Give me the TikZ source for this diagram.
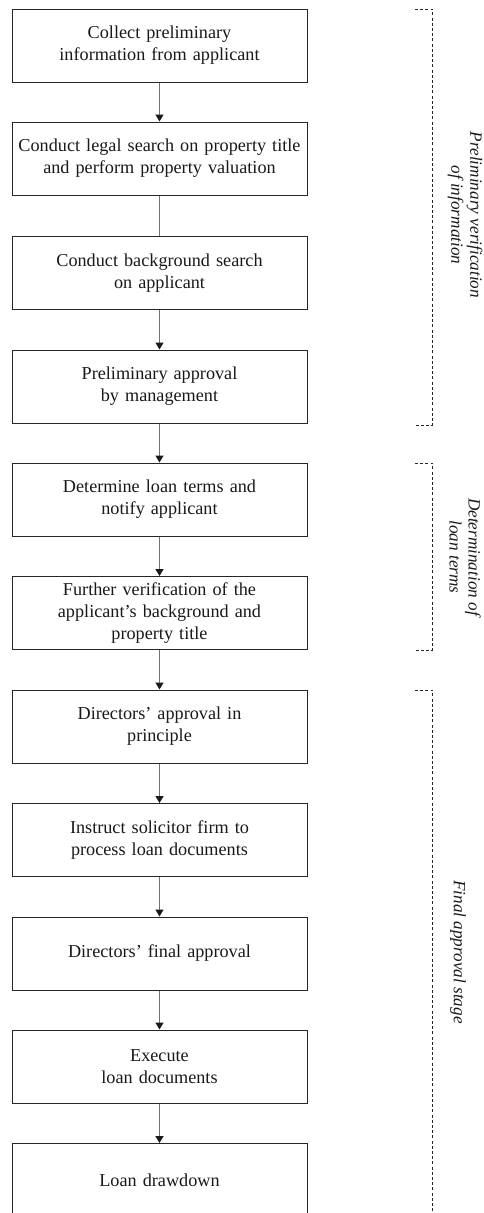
\documentclass[tikz,border=0pt]{standalone}
\usepackage{fontspec}
\setmainfont{Liberation Serif}
\usetikzlibrary{arrows.meta}
\begin{document}
\begin{tikzpicture}[x=1pt,y=-1pt,
  box/.style={draw=black!85, line width=1pt, minimum width=295pt, minimum height=73pt,
    text width=290pt, align=center, inner sep=0pt, text=black!90,
    font=\fontsize{18.2}{22}\selectfont},
  conn/.style={draw=black!55, line width=1.4pt},
  arr/.style={conn, -{Triangle[width=8pt,length=7pt,color=black!90,fill=black!90]}},
  bracket/.style={draw=black!85, line width=0.7pt, dash pattern=on 3pt off 2.2pt},
  stage/.style={rotate=-90, align=center, text=black!90,
    font=\fontsize{17.2}{19}\itshape\selectfont}]
\useasboundingbox (0,0) rectangle (483,1213);
\node[box] (b1) at (159.5,45.5) {Collect preliminary\\information from applicant};
\node[box] (b2) at (159.5,158.5) {Conduct legal search on property title\\and perform property valuation};
\node[box] (b3) at (159.5,273) {Conduct background search\\on applicant};
\node[box] (b4) at (159.5,386.5) {Preliminary approval\\by management};
\node[box] (b5) at (159.5,499.5) {Determine loan terms and\\notify applicant};
\node[box] (b6) at (159.5,613) {Further verification of the\\applicant's background and\\property title};
\node[box] (b7) at (159.5,726.5) {Directors' approval in\\principle};
\node[box] (b8) at (159.5,840) {Instruct solicitor firm to\\process loan documents};
\node[box] (b9) at (159.5,953.5) {Directors' final approval};
\node[box] (b10) at (159.5,1066.5) {Execute\\loan documents};
\node[box] (b11) at (159.5,1180) {Loan drawdown};
\draw[arr] (b1) -- (b2);
\draw[conn] (b2) -- (b3);
\draw[arr] (b3) -- (b4);
\draw[arr] (b4) -- (b5);
\draw[arr] (b5) -- (b6);
\draw[arr] (b6) -- (b7);
\draw[arr] (b7) -- (b8);
\draw[arr] (b8) -- (b9);
\draw[arr] (b9) -- (b10);
\draw[arr] (b10) -- (b11);
\draw[bracket] (415,9) -- (432.5,9) -- (432.5,425) -- (415,425);
\draw[bracket] (415,463) -- (432.5,463) -- (432.5,650) -- (415,650);
\draw[bracket] (415,690) -- (432.5,690) -- (432.5,1215);
\node[stage] (s1) at (465,215) {Preliminary verification\\of information};
\node[stage] (s2) at (465,557) {Determination of\\loan terms};
\node[stage] (s3) at (458,952) {Final approval stage};
\end{tikzpicture}
\end{document}
